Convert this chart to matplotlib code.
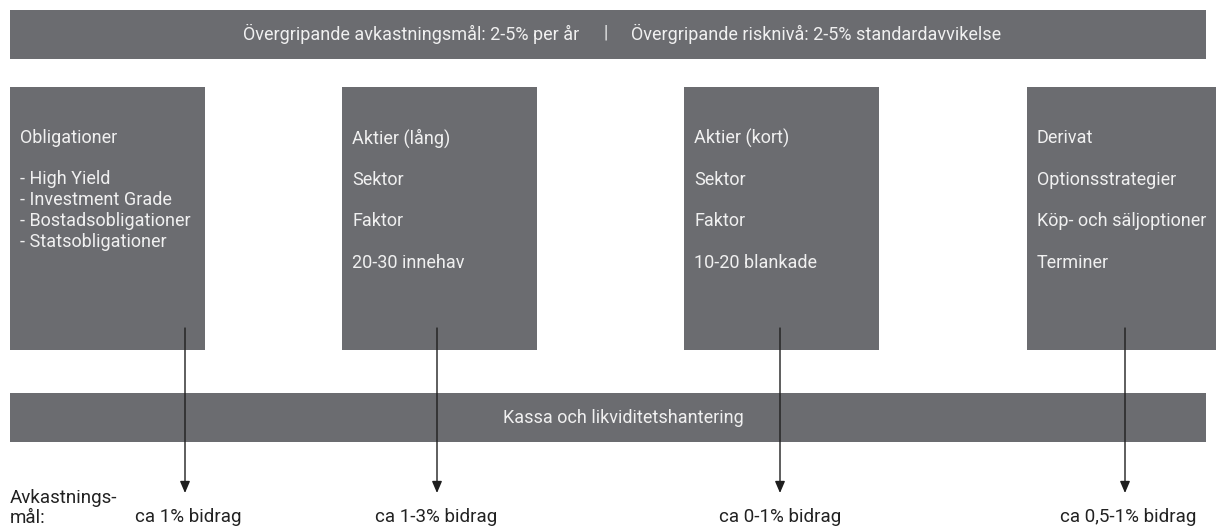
import matplotlib.pyplot as plt
from matplotlib.patches import Rectangle

plt.rcParams['font.family'] = ['Roboto', 'DejaVu Sans']

header_left = "Övergripande avkastningsmål: 2-5% per år"
header_right = "Övergripande risknivå: 2-5% standardavvikelse"
cash_label = "Kassa och likviditetshantering"
row_label = ["Avkastnings-", "mål:"]

box_titles = ["Obligationer", "Aktier (lång)", "Aktier (kort)", "Derivat"]
box_items = [
    ["- High Yield", "- Investment Grade", "- Bostadsobligationer", "- Statsobligationer"],
    ["Sektor", "Faktor", "20-30 innehav"],
    ["Sektor", "Faktor", "10-20 blankade"],
    ["Optionsstrategier", "Köp- och säljoptioner", "Terminer"],
]
contributions = ["ca 1% bidrag", "ca 1-3% bidrag", "ca 0-1% bidrag", "ca 0,5-1% bidrag"]

grey = "#6b6c70"
fs = 13
W, H = 1216, 526
fig = plt.figure(figsize=(W / 100, H / 100), dpi=100)
ax = fig.add_axes([0, 0, 1, 1])
ax.set_xlim(0, W)
ax.set_ylim(H, 0)
ax.axis("off")

white = dict(color="#f0f0f0", fontsize=fs)

# top banner
ax.add_patch(Rectangle((10, 10), 1196, 49, color=grey, lw=0))
ax.text(579, 34, header_left, ha="right", va="center", **white)
ax.text(606, 33, "|", ha="center", va="center", **white)
ax.text(631, 34, header_right, ha="left", va="center", **white)

# cash bar
ax.add_patch(Rectangle((10, 393), 1196, 49, color=grey, lw=0))
ax.text(623, 418, cash_label, ha="center", va="center", **white)

box_left = [10, 342, 684, 1027]
arrow_x = [185, 437, 780, 1125]
label_x = [188, 436, 780, 1128]
for i, title in enumerate(box_titles):
    x0 = box_left[i]
    ax.add_patch(Rectangle((x0, 87), 195, 263, color=grey, lw=0))
    tx = x0 + 10
    ax.text(tx, 138, title, ha="left", va="center", **white)
    items = box_items[i]
    if i == 0:
        for j, it in enumerate(items):
            ax.text(tx, 179 + 21 * j, it, ha="left", va="center", **white)
    else:
        for j, it in enumerate(items):
            ax.text(tx, 180 + 41.5 * j, it, ha="left", va="center", **white)
    ax.annotate("", xy=(arrow_x[i], 493), xytext=(arrow_x[i], 328),
                arrowprops=dict(arrowstyle="-|>,head_length=0.7,head_width=0.3",
                                color="#1e1e1e", lw=1.0, shrinkA=0, shrinkB=0))
    ax.text(label_x[i], 517, contributions[i], color="#222222", ha="center", va="center", fontsize=13.5)

ax.text(10, 498, row_label[0], color="#222222", ha="left", va="center", fontsize=13.5)
ax.text(10, 518, row_label[1], color="#222222", ha="left", va="center", fontsize=13.5)

fig.savefig("out.png", dpi=100)
